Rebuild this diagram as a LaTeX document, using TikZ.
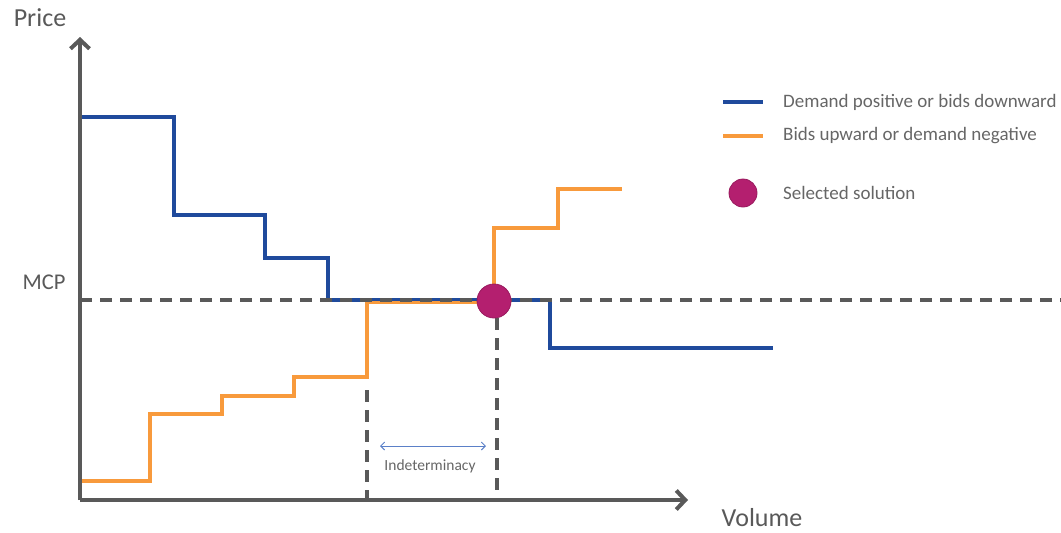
\documentclass[tikz,border=0pt]{standalone}
\usepackage{fontspec}
\setmainfont{Carlito}
\usetikzlibrary{arrows.meta}
\definecolor{axisgray}{HTML}{595959}
\definecolor{txtgray}{HTML}{666666}
\definecolor{demandblue}{HTML}{1F4A9C}
\definecolor{bidorange}{HTML}{F89A3C}
\definecolor{solmagenta}{HTML}{B41F6F}
\definecolor{arrowblue}{HTML}{5B80C8}
\tikzset{
  axis/.style={draw=axisgray, line width=4pt, -{Straight Barb[length=9pt,width=19pt,line width=4pt]}},
  guide/.style={draw=axisgray, line width=3.4pt, dash pattern=on 12pt off 8pt},
  demand/.style={draw=demandblue, line width=3.6pt},
  bids/.style={draw=bidorange, line width=3.6pt},
  solution/.style={circle, fill=solmagenta, draw=solmagenta!85!black, line width=0.8pt, minimum size=#1, inner sep=0pt},
  lbl/.style={text=txtgray, font=\fontsize{19}{21}\selectfont, anchor=west, inner sep=0pt},
  axislbl/.style={text=axisgray, font=\fontsize{26}{28}\selectfont, inner sep=0pt},
}
\begin{document}
\begin{tikzpicture}[x=1pt, y=-1pt]
\useasboundingbox (0,0) rectangle (1061,533);

% supply / demand step curves
\draw[demand] (80,117) -- (174,117) -- (174,215) -- (265,215) -- (265,258)
  -- (328,258) -- (328,300) -- (550,300) -- (550,348) -- (773,348);
\draw[bids] (80,481) -- (150,481) -- (150,414) -- (222,414) -- (222,396)
  -- (294,396) -- (294,377) -- (367,377) -- (367,302.5) -- (494,302.5)
  -- (494,228) -- (558,228) -- (558,189) -- (622,189);

% market clearing price and volume guides
\coordinate (mcpL) at (80,300);
\coordinate (mcpR) at (1061,300);
\draw[guide] (mcpL) -- (mcpR);
\coordinate (indTop) at (367,390);
\coordinate (indBot) at (367,500);
\coordinate (solTop) at (497,318);
\coordinate (solBot) at (497,500);
\draw[guide] (indTop) -- (indBot);
\draw[guide] (solTop) -- (solBot);

% axes
\coordinate (origin) at (80,500);
\coordinate (yend) at (80,37);
\coordinate (xend) at (688,500);
\draw[axis] (origin) -- (yend);
\draw[axis] (origin) -- (xend);

\node[axislbl] (price) at (40,18) {Price};
\node[axislbl] (volume) at (762,518) {Volume};
\node[axislbl, font=\fontsize{22.5}{24}\selectfont] (mcp) at (44,282) {MCP};

% selected solution
\node[solution=34pt] (sol) at (494,301) {};

% indeterminacy range
\coordinate (indA) at (380,446);
\coordinate (indB) at (486,446);
\draw[arrowblue, line width=0.9pt, {Straight Barb[length=4pt,width=8pt]}-{Straight Barb[length=4pt,width=8pt]}] (indA) -- (indB);
\node[text=txtgray, font=\fontsize{15.5}{17}\selectfont, inner sep=0pt] (indet) at (430,466) {Indeterminacy};

% legend
\coordinate (l1a) at (723,102);
\coordinate (l1b) at (763,102);
\coordinate (l2a) at (723,136);
\coordinate (l2b) at (763,136);
\draw[demand] (l1a) -- (l1b);
\draw[bids] (l2a) -- (l2b);
\node[solution=28pt] (legsol) at (743,193) {};
\node[lbl] (leg1) at (783,102) {Demand positive or bids downward};
\node[lbl] (leg2) at (783,136) {Bids upward or demand negative};
\node[lbl] (leg3) at (783,193) {Selected solution};
\end{tikzpicture}
\end{document}
